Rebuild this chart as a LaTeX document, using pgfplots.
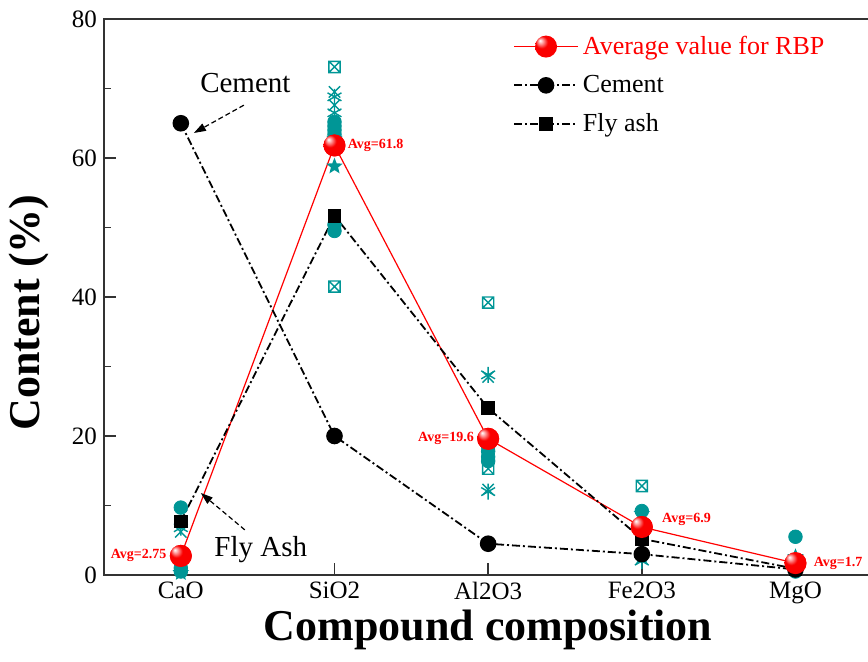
\documentclass[border=0pt]{standalone}
\usepackage{fontspec}
\setmainfont{Liberation Serif}
\newfontfamily\annfont{Liberation Serif}
\usepackage{pgfplots}
\pgfplotsset{compat=1.18}
\usetikzlibrary{arrows.meta,shapes.geometric}
\definecolor{teal1}{RGB}{0,150,150}
\definecolor{ballred}{RGB}{250,0,0}
\pgfdeclareradialshading{myball}{\pgfpoint{-14bp}{14bp}}{color(0bp)=(white); color(3bp)=(red!20!white); color(14bp)=(ballred); color(40bp)=(ballred); color(50bp)=(ballred!85!black)}
\pgfdeclareplotmark{rball}{\pgfpathcircle{\pgfpointorigin}{\pgfplotmarksize}\pgfshadepath{myball}{0}\pgfusepath{discard}}
\pgfdeclareplotmark{boxx}{%
 \pgfpathrectangle{\pgfqpoint{-\pgfplotmarksize}{-\pgfplotmarksize}}{\pgfqpoint{2\pgfplotmarksize}{2\pgfplotmarksize}}%
 \pgfpathmoveto{\pgfqpoint{-\pgfplotmarksize}{-\pgfplotmarksize}}\pgfpathlineto{\pgfqpoint{\pgfplotmarksize}{\pgfplotmarksize}}%
 \pgfpathmoveto{\pgfqpoint{-\pgfplotmarksize}{\pgfplotmarksize}}\pgfpathlineto{\pgfqpoint{\pgfplotmarksize}{-\pgfplotmarksize}}%
 \pgfusepathqstroke}
\pgfdeclareplotmark{fstar}{\node[star,star points=5,star point ratio=2.3,fill,draw=none,inner sep=0pt,minimum size=2.4\pgfplotmarksize]{};}
\begin{document}
\begin{tikzpicture}
\begin{axis}[
  at={(0,0)}, anchor=south west,
  scale only axis, width=388pt, height=278pt,
  xmin=-0.5, xmax=4.55, ymin=0, ymax=80,
  xtick={0,1,2,3,4}, xticklabels={CaO,SiO2,Al2O3,Fe2O3,MgO},
  ytick={0,20,40,60,80}, minor y tick num=1,
  xtick pos=bottom, ytick pos=left,
  tick align=inside, major tick length=6pt, minor tick length=3.5pt,
  axis line style={line width=1pt, black!80},
  every tick/.style={line width=0.8pt, black!80},
  ticklabel style={font=\annfont\fontsize{12.5}{14}\selectfont},
  /pgf/number format/assume math mode=true,
  xlabel={Compound composition}, ylabel={Content (\%)},
  label style={font=\annfont\fontsize{22}{26}\selectfont\bfseries},
  xlabel style={at={(axis cs:2,0)}, anchor=center, yshift=-27.5pt},
  ylabel style={at={(axis description cs:-0.097,0.472)}, anchor=center},
  legend style={at={(axis cs:2.16,78.2)}, anchor=north west, draw=none, fill=none,
     font=\annfont\fontsize{13}{15}\selectfont, row sep=5pt, inner sep=0pt,
     /tikz/every even column/.append style={column sep=6pt}},
  legend cell align=left,
  legend image code/.code={\draw[mark repeat=2,mark phase=2,#1] plot coordinates {(0pt,0pt) (16pt,0pt) (32pt,0pt)};},
  clip=false,
]
% individual RBP samples (teal)
\addplot[only marks, mark=*, mark size=3.4pt, teal1, forget plot] coordinates {
 (0,9.7) (0,1.0) (0,0.5)
 (1,65.2) (1,64.6) (1,64.0) (1,63.4) (1,50.4) (1,49.5)
 (2,18.5) (2,17.8) (2,17.0) (2,16.4)
 (3,9.2) (4,5.5) (4,0.5)};
\addplot[only marks, mark=fstar, mark size=3.6pt, teal1, forget plot] coordinates {
 (0,0.3) (1,58.8) (1,62.8) (2,18.9) (3,8.8) (4,2.6) (3,2.8)};
\addplot[only marks, mark=boxx, mark size=2.8pt, teal1, line width=0.7pt, forget plot] coordinates {
 (1,73.1) (1,41.5) (2,39.2) (2,15.3) (3,12.8)};
\addplot[only marks, mark=asterisk, mark size=4pt, teal1, line width=0.7pt, forget plot] coordinates {
 (0,6.8) (1,66.5) (1,68.8) (2,28.8) (2,12.0) (3,2.0) (4,1.0)};
\addplot[only marks, mark=x, mark size=4pt, teal1, line width=0.7pt, forget plot] coordinates {
 (0,6.2) (1,69.5) (1,67.6) (2,28.5) (2,12.3) (3,2.4)};
% average (legend)
\addplot[red, line width=0.6pt, mark=rball, mark size=5.5pt] coordinates {
 (0,2.75) (1,61.8) (2,19.6) (3,6.9) (4,1.7)};
\addlegendentry{\textcolor{red}{Average value for RBP}}
\addplot[black, line width=0.9pt, dash pattern=on 4pt off 1.5pt on 1pt off 1.5pt, mark=*, mark size=3.7pt, mark options={solid}] coordinates {
 (0,65) (1,20) (2,4.5) (3,3.0) (4,0.8)};
\addlegendentry{Cement}
\addplot[black, line width=0.9pt, dash pattern=on 4pt off 1.5pt on 1pt off 1.5pt, mark=square*, mark size=3pt, mark options={solid}] coordinates {
 (0,7.7) (1,51.7) (2,24) (3,5.2) (4,0.9)};
\addlegendentry{Fly ash}
% red balls on top
\addplot[only marks, mark=rball, mark size=5.5pt, forget plot] coordinates {
 (0,2.75) (1,61.8) (2,19.6) (3,6.9) (4,1.7)};
% avg labels
\begin{scope}[every node/.style={font=\annfont\fontsize{7}{8}\selectfont\bfseries, text=red, inner sep=0pt}]
\node[anchor=east] at ([xshift=-7pt]axis cs:0,2.75) {Avg=2.75};
\node[anchor=west] at ([xshift=6.5pt]axis cs:1,61.8) {Avg=61.8};
\node[anchor=east] at ([xshift=-7pt]axis cs:2,19.7) {Avg=19.6};
\node[anchor=west] at ([xshift=10pt,yshift=4pt]axis cs:3,6.9) {Avg=6.9};
\node[anchor=west] at ([xshift=9pt]axis cs:4,1.6) {Avg=1.7};
\end{scope}
% annotations
\node[font=\annfont\fontsize{14.5}{16}\selectfont] at (axis cs:0.42,70.8) {Cement};
\node[font=\annfont\fontsize{14.5}{16}\selectfont] at (axis cs:0.52,3.6) {Fly Ash};
\draw[black, line width=0.6pt, dash pattern=on 2.5pt off 1.5pt, -{Triangle[length=6pt,width=4pt]}] (axis cs:0.41,67.6) -- (axis cs:0.085,63.6);
\draw[black, line width=0.6pt, dash pattern=on 2.5pt off 1.5pt, -{Triangle[length=6pt,width=4pt]}] (axis cs:0.416,6.5) -- (axis cs:0.13,11.8);
\end{axis}
\pgfresetboundingbox
\path[use as bounding box] (-52pt,-43.5pt) rectangle (382pt,287.5pt);
\end{tikzpicture}
\end{document}
